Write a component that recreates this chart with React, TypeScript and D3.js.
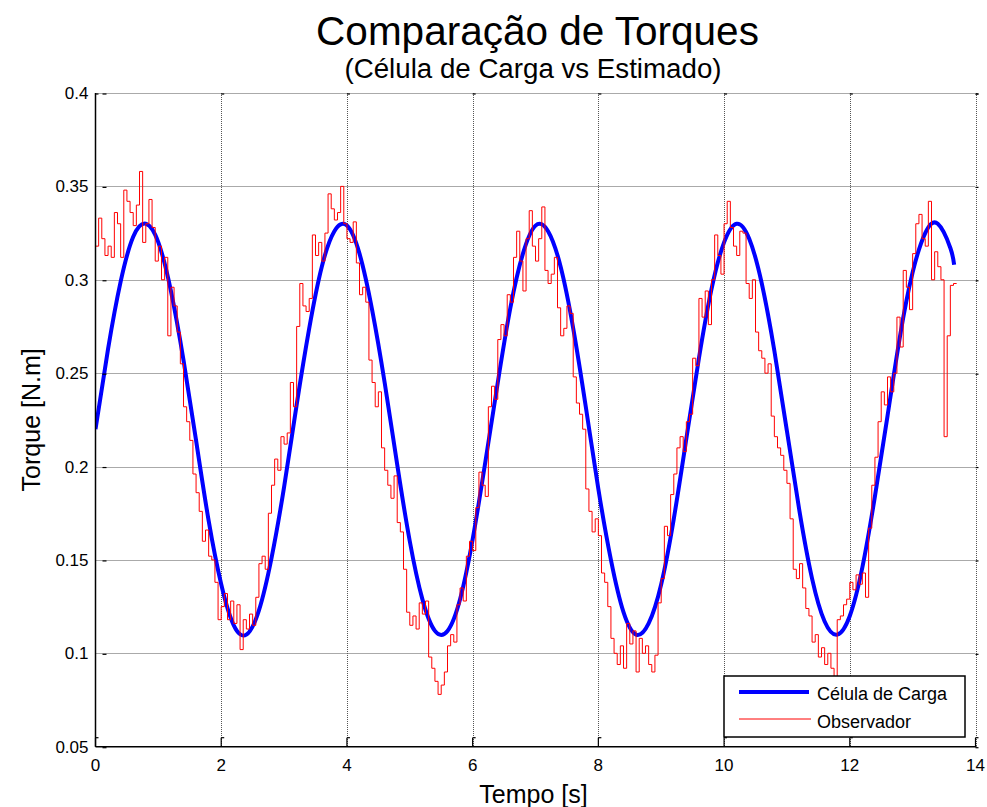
import React from "react";
import * as d3 from "d3";

// ---- data ----
const TITLE = "Comparação de Torques";
const SUBTITLE = "(Célula de Carga vs Estimado)";
const X_LABEL = "Tempo [s]";
const Y_LABEL = "Torque [N.m]";
const SERIES_NAMES = ["Célula de Carga", "Observador"];

const X_TICKS = [0, 2, 4, 6, 8, 10, 12, 14];
const Y_TICKS = [0.05, 0.1, 0.15, 0.2, 0.25, 0.3, 0.35, 0.4];

// Célula de Carga (load cell), sampled every 0.2 s, last sample at 13.66 s
const CELL_DT = 0.2;
const CELL_END_T = 13.66;
const cellValues = [
  0.220, 0.263, 0.299, 0.323, 0.330, 0.320, 0.294, 0.257, 0.214, 0.171,
  0.137, 0.115, 0.110, 0.123, 0.151, 0.189, 0.233, 0.274, 0.307, 0.326,
  0.329, 0.314, 0.284, 0.245, 0.201, 0.160, 0.129, 0.112, 0.112, 0.129,
  0.161, 0.202, 0.245, 0.285, 0.314, 0.329, 0.326, 0.307, 0.274, 0.232,
  0.188, 0.150, 0.122, 0.110, 0.116, 0.137, 0.172, 0.215, 0.258, 0.295,
  0.320, 0.330, 0.322, 0.298, 0.262, 0.219, 0.176, 0.140, 0.117, 0.110,
  0.120, 0.146, 0.184, 0.227, 0.270, 0.304, 0.325, 0.330, 0.317, 0.308,
];

// Observador (estimated), sampled every 0.05 s
const OBS_DT = 0.05;
const observerValues = [
  0, 0.318, 0.333, 0.322, 0.313, 0.318, 0.312, 0.336, 0.330, 0.312, 0.348, 0.342, 0.336, 0.329, 0.340, 0.358, 0.320, 0.330, 0.343, 0.328,
  0.310, 0.318, 0.300, 0.312, 0.270, 0.296, 0.286, 0.272, 0.255, 0.232, 0.224, 0.214, 0.196, 0.186, 0.176, 0.160, 0.166, 0.152, 0.150, 0.138,
  0.118, 0.125, 0.132, 0.118, 0.128, 0.116, 0.126, 0.102, 0.118, 0.113, 0.121, 0.115, 0.130, 0.148, 0.152, 0.145, 0.175, 0.190, 0.204, 0.198,
  0.216, 0.212, 0.218, 0.245, 0.232, 0.275, 0.298, 0.286, 0.283, 0.290, 0.324, 0.313, 0.320, 0.310, 0.325, 0.346, 0.338, 0.332, 0.336, 0.350,
  0.330, 0.322, 0.320, 0.331, 0.309, 0.292, 0.296, 0.288, 0.257, 0.245, 0.232, 0.240, 0.210, 0.198, 0.190, 0.183, 0.195, 0.170, 0.165, 0.145,
  0.122, 0.115, 0.120, 0.113, 0.127, 0.121, 0.128, 0.098, 0.092, 0.085, 0.078, 0.083, 0.090, 0.104, 0.110, 0.106, 0.126, 0.135, 0.128, 0.152,
  0.160, 0.155, 0.178, 0.197, 0.190, 0.184, 0.232, 0.243, 0.236, 0.268, 0.276, 0.270, 0.292, 0.288, 0.312, 0.326, 0.310, 0.294, 0.322, 0.337,
  0.318, 0.310, 0.322, 0.339, 0.305, 0.298, 0.303, 0.312, 0.285, 0.270, 0.274, 0.286, 0.282, 0.248, 0.234, 0.228, 0.220, 0.188, 0.176, 0.165,
  0.172, 0.163, 0.143, 0.138, 0.125, 0.108, 0.100, 0.094, 0.104, 0.092, 0.116, 0.105, 0.112, 0.090, 0.108, 0.100, 0.104, 0.094, 0.090, 0.099,
  0.127, 0.140, 0.168, 0.163, 0.185, 0.196, 0.210, 0.216, 0.208, 0.224, 0.228, 0.258, 0.254, 0.290, 0.280, 0.294, 0.276, 0.300, 0.324, 0.313,
  0.303, 0.330, 0.342, 0.328, 0.318, 0.313, 0.326, 0.325, 0.298, 0.290, 0.300, 0.272, 0.262, 0.258, 0.250, 0.255, 0.227, 0.216, 0.210, 0.206,
  0.198, 0.191, 0.172, 0.145, 0.140, 0.148, 0.135, 0.124, 0.120, 0.106, 0.110, 0.098, 0.103, 0.094, 0.100, 0.092, 0.086, 0.118, 0.120, 0.126,
  0.129, 0.138, 0.134, 0.142, 0.137, 0.143, 0.130, 0.167, 0.190, 0.205, 0.224, 0.240, 0.233, 0.248, 0.240, 0.250, 0.280, 0.264, 0.305, 0.296,
  0.284, 0.314, 0.330, 0.335, 0.322, 0.318, 0.342, 0.300, 0.315, 0.307, 0.300, 0.216, 0.270, 0.297, 0.298,
];

const FONT = "'Liberation Sans', Arial, Helvetica, sans-serif";

export default function App() {
  const W = 987;
  const H = 807;
  const x = d3.scaleLinear().domain([0, 14]).range([95.5, 975.5]);
  const y = d3.scaleLinear().domain([0.05, 0.4]).range([746.7, 93]);
  const [x0, x1] = x.range();
  const [yb, yt] = y.range();

  const cellData = cellValues.map((v, i) => ({
    t: i === cellValues.length - 1 ? CELL_END_T : i * CELL_DT,
    v,
  }));
  const obsData = observerValues.map((v, i) => ({ t: i * OBS_DT, v }));

  const cellLine = d3
    .line<{ t: number; v: number }>()
    .x((d) => x(d.t))
    .y((d) => y(d.v))
    .curve(d3.curveNatural);
  const obsLine = d3
    .line<{ t: number; v: number }>()
    .x((d) => x(d.t))
    .y((d) => y(d.v))
    .curve(d3.curveStepBefore);

  const gridColor = "#555555";

  return (
    <svg
      width={W}
      height={H}
      style={{ position: "absolute", left: 0, top: 0, background: "#fff" }}
      fontFamily={FONT}
    >
      <rect x={0} y={0} width={W} height={H} fill="#fff" />
      <defs>
        <clipPath id="plotClip">
          <rect x={x0} y={yt} width={x1 - x0} height={yb - yt} />
        </clipPath>
      </defs>

      {/* grid */}
      {X_TICKS.filter((t) => t > 0).map((t) => (
        <line
          key={"gx" + t}
          x1={Math.round(x(t)) + 0.5}
          x2={Math.round(x(t)) + 0.5}
          y1={yt}
          y2={yb}
          stroke={gridColor}
          strokeWidth={1}
          strokeDasharray="1,1"
        />
      ))}
      {Y_TICKS.filter((t) => t > 0.05).map((t) => (
        <line
          key={"gy" + t}
          x1={x0}
          x2={x1}
          y1={Math.round(y(t)) + 0.5}
          y2={Math.round(y(t)) + 0.5}
          stroke={gridColor}
          strokeWidth={1}
          strokeDasharray="1,1"
        />
      ))}

      {/* series */}
      <g clipPath="url(#plotClip)">
        <path d={cellLine(cellData) || ""} fill="none" stroke="#0000ff" strokeWidth={4} />
        <path d={obsLine(obsData) || ""} fill="none" stroke="#ff0000" strokeWidth={1} />
      </g>

      {/* axes */}
      <line x1={x0} x2={x0} y1={yt} y2={yb} stroke="#000" strokeWidth={1.5} />
      <line x1={x0} x2={x1 + 1} y1={yb} y2={yb} stroke="#000" strokeWidth={1.5} />

      {/* tick marks */}
      {X_TICKS.map((t) => (
        <g key={"tx" + t} stroke="#000" strokeWidth={1.2}>
          <line x1={x(t)} x2={x(t)} y1={yb} y2={yb - 9} />
          <line x1={x(t)} x2={x(t) + 3} y1={yb - 9} y2={yb - 9} />
          <line x1={x(t)} x2={x(t) + 3} y1={yt + 1} y2={yt + 1} />
        </g>
      ))}
      {Y_TICKS.map((t) => (
        <g key={"ty" + t} stroke="#000" strokeWidth={1.2}>
          <line x1={x0 + 7} x2={x0 + 11} y1={y(t) + 1} y2={y(t) + 1} />
          <line x1={x1} x2={x1 + 3} y1={y(t) + 1} y2={y(t) + 1} />
        </g>
      ))}

      {/* tick labels */}
      {X_TICKS.map((t) => (
        <text
          key={"lx" + t}
          x={x(t)}
          y={yb + 24}
          textAnchor="middle"
          fontSize={17}
          fill="#000"
        >
          {String(t)}
        </text>
      ))}
      {Y_TICKS.map((t) => (
        <text
          key={"ly" + t}
          x={x0 - 7}
          y={y(t) + 6}
          textAnchor="end"
          fontSize={17}
          fill="#000"
        >
          {String(t)}
        </text>
      ))}

      {/* titles */}
      <text x={(x0 + x1) / 2 + 2} y={45} textAnchor="middle" fontSize={40.5} fill="#000">
        {TITLE}
      </text>
      <text x={(x0 + x1) / 2 - 2.5} y={78} textAnchor="middle" fontSize={27.7} fill="#000">
        {SUBTITLE}
      </text>
      <text x={(x0 + x1) / 2 - 2} y={803} textAnchor="middle" fontSize={25} fill="#000">
        {X_LABEL}
      </text>
      <text
        transform={`translate(40, ${(yt + yb) / 2}) rotate(-90)`}
        textAnchor="middle"
        fontSize={25}
        fill="#000"
      >
        {Y_LABEL}
      </text>

      {/* legend */}
      <g>
        <rect x={724} y={676} width={241} height={61} fill="#fff" stroke="#000" strokeWidth={1.5} />
        <line x1={739} x2={809} y1={692} y2={692} stroke="#0000ff" strokeWidth={4} />
        <line x1={739} x2={811} y1={719} y2={719} stroke="#ff0000" strokeWidth={1} />
        <text x={817} y={700} fontSize={18} fill="#000">
          {SERIES_NAMES[0]}
        </text>
        <text x={817} y={728} fontSize={18} fill="#000">
          {SERIES_NAMES[1]}
        </text>
      </g>
    </svg>
  );
}
